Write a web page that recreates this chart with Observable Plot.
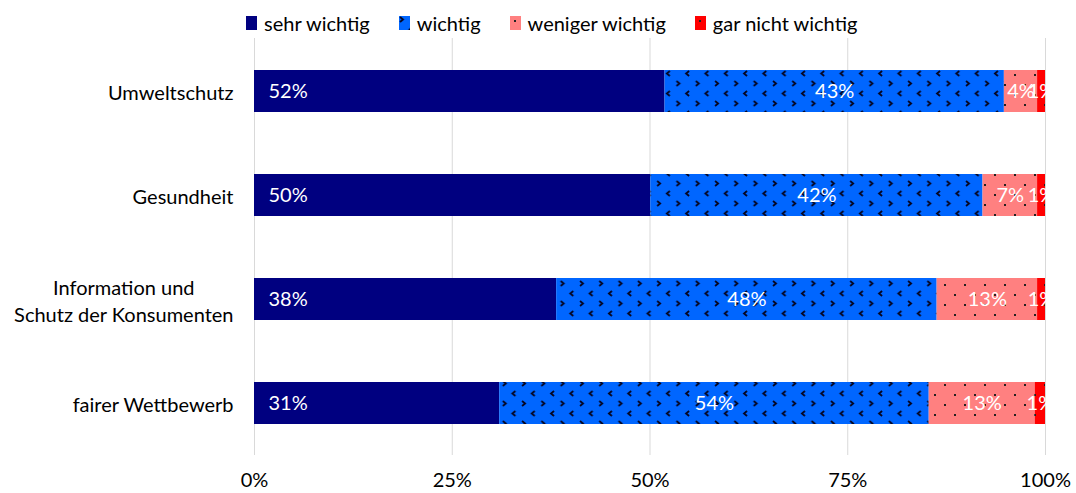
<!DOCTYPE html>
<html><head><meta charset="utf-8">
<script src="https://cdn.jsdelivr.net/npm/d3@7"></script>
<script src="https://cdn.jsdelivr.net/npm/@observablehq/plot@0.6"></script>
<style>
body{margin:0;background:#fff;font-family:Lato, sans-serif;}
#wrap{position:relative;width:1076px;height:493px;}
#legend{position:absolute;left:246px;top:11px;display:flex;align-items:center;font-size:20px;color:#000;line-height:24px;white-space:nowrap;}
.item{display:flex;align-items:center;margin-right:29px;}
.item svg{margin-right:7px;}
</style></head><body>
<svg width="0" height="0" style="position:absolute">
<defs>
<pattern id="patWichtig" patternUnits="userSpaceOnUse" width="19.3" height="20">
<rect width="19.3" height="20" fill="#0066FF"/>
<path d="M1,1 L4,3.5 L1,6" fill="none" stroke="#050520" stroke-width="1.8"/>
<path d="M13.6,11 L10.6,13.5 L13.6,16" fill="none" stroke="#050520" stroke-width="1.8"/>
</pattern>
<pattern id="patWeniger" patternUnits="userSpaceOnUse" width="20" height="20">
<rect width="20" height="20" fill="#FF8080"/>
<rect x="4" y="4" width="2" height="2" fill="#222"/>
<rect x="14" y="14" width="2" height="2" fill="#222"/>
</pattern>
<pattern id="patGarNicht" patternUnits="userSpaceOnUse" width="20" height="20">
<rect width="20" height="20" fill="#FF0000"/>
<rect x="4" y="4" width="2" height="2" fill="#222"/>
<rect x="14" y="14" width="2" height="2" fill="#222"/>
</pattern>
</defs>
</svg>
<div id="wrap"><div id="legend"></div><div id="chart"></div></div>
<script>
const categories = ["Umweltschutz", "Gesundheit", "Information und\nSchutz der Konsumenten", "fairer Wettbewerb"];
const seriesNames = ["sehr wichtig", "wichtig", "weniger wichtig", "gar nicht wichtig"];
const sehrWichtig = [51.9, 50.1, 38.2, 31.0];
const wichtig = [42.9, 42.0, 48.1, 54.3];
const wenigerWichtig = [4.2, 6.9, 12.7, 13.4];
const garNichtWichtig = [1.0, 1.0, 1.0, 1.3];
const xTicks = [0, 25, 50, 75, 100];

const seriesColors = ["#000080", "url(#patWichtig)", "url(#patWeniger)", "url(#patGarNicht)"];
const seriesValues = [sehrWichtig, wichtig, wenigerWichtig, garNichtWichtig];

const data = [];
categories.forEach((c, i) => {
  seriesValues.forEach((arr, j) => data.push({category: c, series: seriesNames[j], value: arr[i]}));
});

// legend
const legend = document.getElementById("legend");
seriesNames.forEach((s, j) => {
  const it = document.createElement("div");
  it.className = "item";
  it.innerHTML = `<svg width="11" height="14"><rect width="11" height="14" fill="${seriesColors[j]}"/></svg><span>${s}</span>`;
  legend.appendChild(it);
});

const fmt = d => d + "%";
const chart = Plot.plot({
  width: 1076, height: 493,
  marginTop: 38, marginBottom: 38, marginLeft: 254, marginRight: 31,
  style: {fontFamily: "Lato, sans-serif", fontSize: "20px", color: "#000", background: "#fff"},
  x: {domain: [0, 100], ticks: xTicks, tickFormat: fmt, label: null},
  y: {domain: categories, paddingInner: 0.6, paddingOuter: 0.3, label: null},
  color: {domain: seriesNames, range: seriesColors},
  marks: [
    Plot.gridX(xTicks, {stroke: "#d9d9d9", strokeOpacity: 1, strokeWidth: 1}),
    Plot.barX(data, Plot.stackX({x: "value", y: "category", fill: "series"})),
    Plot.text(data, Plot.stackX({x: "value", y: "category", z: "series",
      text: d => d.series === "sehr wichtig" ? null : Math.round(d.value) + "%", fill: "white"})),
    Plot.text(data, Plot.stackX1({x: "value", y: "category", z: "series",
      filter: d => d.series === "sehr wichtig",
      text: d => Math.round(d.value) + "%", fill: "white", textAnchor: "start", dx: 14})),
    Plot.axisX({ticks: xTicks, tickSize: 0, tickPadding: 17, tickFormat: fmt, label: null}),
    Plot.axisY({tickSize: 0, tickPadding: 21, lineHeight: 1.38, label: null})
  ]
});
document.getElementById("chart").appendChild(chart);

// center multi-line y labels (like the original)
chart.querySelectorAll('g[aria-label="y-axis tick label"] text').forEach(t => {
  if (t.querySelectorAll("tspan").length > 1) {
    t.setAttribute("text-anchor", "middle");
    const w = t.getBBox().width;
    t.setAttribute("transform", (t.getAttribute("transform") || "") + ` translate(${-w / 2},0)`);
  }
});
</script>
</body></html>
